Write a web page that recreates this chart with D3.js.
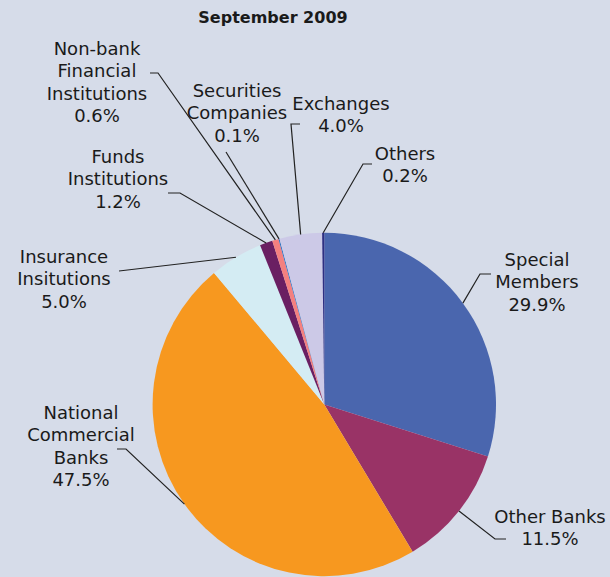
<!DOCTYPE html>
<html>
<head>
<meta charset="utf-8">
<script src="https://cdn.jsdelivr.net/npm/d3@7"></script>
<style>
  html, body { margin: 0; padding: 0; background: #d6dce9; }
  svg { display: block; }
  text { font-family: "DejaVu Sans", Verdana, sans-serif; fill: #1a1a1a; }
</style>
</head>
<body>
<svg id="chart" width="610" height="577"></svg>
<script>
// Share of members by type, September 2009 (percent)
const categories = [
  "Special Members", "Other Banks", "National Commercial Banks",
  "Insurance Insitutions", "Funds Institutions", "Non-bank Financial Institutions",
  "Securities Companies", "Exchanges", "Others"
];
const shares = [29.9, 11.5, 47.5, 5.0, 1.2, 0.6, 0.1, 4.0, 0.2];
const labelLines = [
  ["Special", "Members"],
  ["Other Banks"],
  ["National", "Commercial", "Banks"],
  ["Insurance", "Insitutions"],
  ["Funds", "Institutions"],
  ["Non-bank", "Financial", "Institutions"],
  ["Securities", "Companies"],
  ["Exchanges"],
  ["Others"]
];
const sliceColors = [
  "#4a66ae", "#993366", "#f7981f", "#d4ecf3", "#6a1f62",
  "#f4807f", "#2f72c4", "#ccc9e7", "#2e2f82"
];
const title = "September 2009";

// Label placement: text centre x, first baseline y, leader knee points (outer end first)
const labelLayout = [
  { x: 537, y: 266, knee: [[491, 274], [480, 274]] },
  { x: 550, y: 523, knee: [[506, 539], [495, 539]] },
  { x: 81,  y: 419, knee: [[117, 449], [126, 449]] },
  { x: 64,  y: 263, knee: [[119, 271]] },
  { x: 118, y: 163, knee: [[168, 193], [180, 193]] },
  { x: 97,  y: 55,  knee: [[150, 73], [158, 73]] },
  { x: 237, y: 97,  knee: [[226, 152]] },
  { x: 341, y: 110, knee: [[300, 124], [291, 124]] },
  { x: 405, y: 160, knee: [[372, 164], [363, 164]] }
];

const svg = d3.select("#chart");
const W = 610, H = 577;
const cx = 324.3, cy = 404.5, radius = 171.7;
const lineH = 22.4;

svg.append("rect").attr("width", W).attr("height", H).attr("fill", "#d6dce9");

svg.append("text")
  .attr("x", 273).attr("y", 23)
  .attr("text-anchor", "middle")
  .style("font-size", "16px").style("font-weight", "bold")
  .text(title);

const data = categories.map((c, i) => ({ name: c, value: shares[i], i }));
const pie = d3.pie().sort(null).value(d => d.value).startAngle(0).endAngle(2 * Math.PI);
const arcs = pie(data);
const arc = d3.arc().innerRadius(0).outerRadius(radius);
const color = d3.scaleOrdinal().domain(categories).range(sliceColors);

const g = svg.append("g").attr("transform", `translate(${cx},${cy})`);
g.selectAll("path.slice")
  .data(arcs)
  .join("path")
  .attr("class", "slice")
  .attr("d", arc)
  .attr("fill", d => color(d.data.name));

// Leader lines from each slice's outer edge midpoint to its label
const fmt = v => v.toFixed(1) + "%";
arcs.forEach((a, k) => {
  const mid = (a.startAngle + a.endAngle) / 2;
  const ex = cx + radius * Math.sin(mid);
  const ey = cy - radius * Math.cos(mid);
  const lay = labelLayout[k];
  const pts = [[ex, ey]].concat(lay.knee.slice().reverse());
  svg.append("path")
    .attr("d", d3.line()(pts))
    .attr("fill", "none")
    .attr("stroke", "#222")
    .attr("stroke-width", 1.2);

  const lines = labelLines[k].concat([fmt(a.data.value)]);
  const t = svg.append("text")
    .attr("text-anchor", "middle")
    .style("font-size", "18px");
  lines.forEach((ln, j) => {
    t.append("tspan")
      .attr("x", lay.x)
      .attr("y", lay.y + j * lineH)
      .text(ln);
  });
});
</script>
</body>
</html>
